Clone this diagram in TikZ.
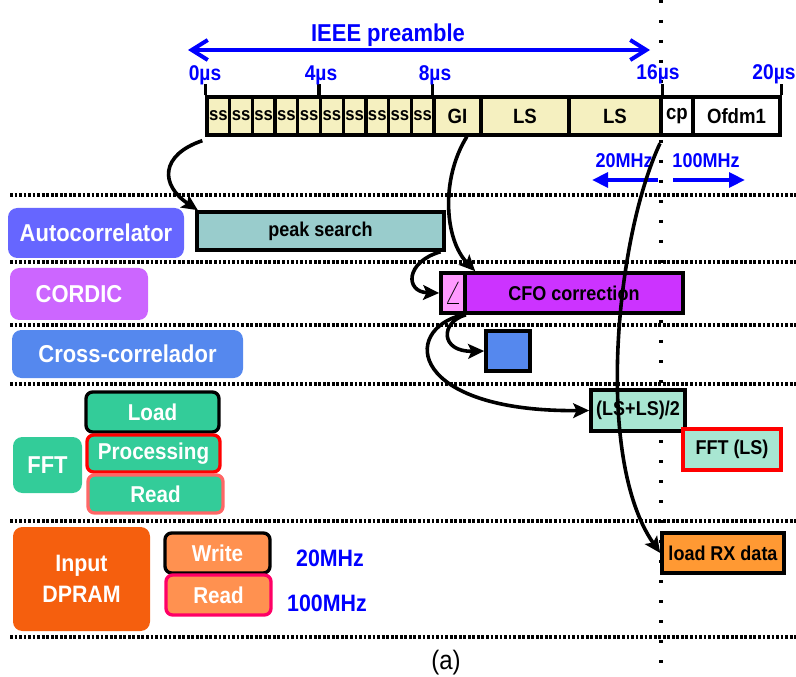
\documentclass[tikz,border=0pt]{standalone}
\usepackage{fontspec}
\setmainfont{Liberation Sans}[FakeStretch=0.9]
\usetikzlibrary{arrows.meta}

\definecolor{preamble}{HTML}{F5F0C0}
\definecolor{autoc}{HTML}{6666FF}
\definecolor{cordic}{HTML}{CC66FF}
\definecolor{crossc}{HTML}{5588EE}
\definecolor{fftc}{HTML}{33CC99}
\definecolor{dpram}{HTML}{F55F0E}
\definecolor{peak}{HTML}{99CCCC}
\definecolor{anglec}{HTML}{FF99FF}
\definecolor{cfo}{HTML}{CC33FF}
\definecolor{mint}{HTML}{A8E6D2}
\definecolor{rxdata}{HTML}{FF9933}
\definecolor{ramport}{HTML}{FF9150}
\definecolor{readedge}{HTML}{FF6666}
\definecolor{pinkedge}{HTML}{FF0066}

\tikzset{
  tbox/.style={draw=black, line width=2.5pt, inner sep=0pt, minimum height=28.5pt,
    font=\fontsize{15.5}{15.5}\selectfont\bfseries},
  unit/.style={rounded corners=7pt, text=white, inner sep=0pt,
    font=\fontsize{18.3}{18.3}\selectfont\bfseries},
  port/.style={rounded corners=5pt, line width=2.5pt, text=white, inner sep=0pt,
    font=\fontsize{17.2}{17.2}\selectfont\bfseries},
  task/.style={draw=black, line width=2.7pt, inner sep=0pt,
    font=\fontsize{15}{15}\selectfont\bfseries},
  tlabel/.style={text=blue, font=\fontsize{16}{16}\selectfont\bfseries},
  rowsep/.style={line width=2.4pt, dash pattern=on 2.1pt off 1.3pt},
  timesep/.style={line width=2.4pt, dash pattern=on 2.4pt off 12.6pt},
  flow/.style={line width=2.7pt, -{Stealth[length=12pt,width=11pt,inset=2.5pt]}},
}

\begin{document}
\begin{tikzpicture}[x=0.75pt, y=-0.75pt]
  \useasboundingbox (0,0) rectangle (796,677);

  % Dotted separators
  \foreach \y in {195,262,325,384,521,637}
    \draw[rowsep] (10,\y) -- (796,\y);
  \draw[timesep] (661,0) -- (661,677);

  % IEEE preamble
  \node[text=blue, font=\fontsize{18.3}{18.3}\selectfont\bfseries] (title) at (388,35) {IEEE preamble};
  \coordinate (pl) at (188,50);
  \coordinate (pr) at (650,50);
  \draw[blue, line width=3pt, {Straight Barb[length=12pt,width=15pt]}-{Straight Barb[length=12pt,width=15pt]}] (pl) -- (pr);

  % Time line
  \foreach \i in {1,...,10}
    \node[tbox, fill=preamble, minimum width=17pt, font=\fontsize{13.9}{13.9}\selectfont\bfseries]
      (ss\i) at ({207+22.7*(\i-0.5)},116) {ss};
  \node[tbox, fill=preamble, minimum width=35.25pt] (gi) at (457.5,116) {GI};
  \node[tbox, fill=preamble, minimum width=66pt] (ls1) at (525,116) {LS};
  \node[tbox, fill=preamble, minimum width=69pt] (ls2) at (615,116) {LS};
  \node[tbox, fill=white, minimum width=24pt] (cp) at (677,116) {cp};
  \node[tbox, fill=white, minimum width=65.25pt] (ofdm) at (736.5,116) {Ofdm1};

  % Ticks
  \draw[line width=2.5pt] (ss1.north west) -- ++(0,-11);
  \draw[line width=2.5pt] (ss6.north west) -- ++(0,-11);
  \draw[line width=2.5pt] (gi.north west) -- ++(0,-11);
  \draw[line width=2.5pt] (ls2.north east) -- ++(0,-11);
  \draw[line width=2.5pt] (ofdm.north east) -- ++(0,-11);
  \node[tlabel] (t0) at (205,75) {0µs};
  \node[tlabel] (t4) at (321,75) {4µs};
  \node[tlabel] (t8) at (435,75) {8µs};
  \node[tlabel] (t16) at (658,74) {16µs};
  \node[tlabel] (t20) at (774,74) {20µs};

  % Clock domains
  \node[tlabel, font=\fontsize{15}{15}\selectfont\bfseries] (mhzlo) at (624,161) {20MHz};
  \node[tlabel, font=\fontsize{15}{15}\selectfont\bfseries] (mhzhi) at (706,161) {100MHz};
  \coordinate (lo1) at (658,180);
  \coordinate (lo2) at (592,180);
  \coordinate (hi1) at (673,180);
  \coordinate (hi2) at (745,180);
  \draw[blue, line width=3.5pt, -{Triangle[length=12pt,width=11pt]}] (lo1) -- (lo2);
  \draw[blue, line width=3.5pt, -{Triangle[length=12pt,width=11pt]}] (hi1) -- (hi2);

  % Units
  \node[unit, fill=autoc, minimum width=132pt, minimum height=37.5pt] (auto) at (96,233) {Autocorrelator};
  \node[unit, fill=cordic, minimum width=103.5pt, minimum height=39pt] (cord) at (79,294) {CORDIC};
  \node[unit, fill=crossc, minimum width=173.25pt, minimum height=36pt] (cross) at (127.5,354) {Cross-correlador};
  \node[unit, fill=fftc, minimum width=51.75pt, minimum height=42pt] (fft) at (47.5,465) {FFT};
  \node[port, fill=fftc, draw=black, minimum width=99.75pt, minimum height=30pt] (load) at (152.5,412) {Load};
  \node[port, fill=fftc, draw=red, minimum width=99.75pt, minimum height=27.75pt] (proc) at (153.5,453.5) {Processing};
  \node[port, fill=fftc, draw=readedge, minimum width=101.25pt, minimum height=28.5pt] (fread) at (155.5,494) {Read};
  \node[unit, fill=dpram, minimum width=102.75pt, minimum height=78pt, align=center,
    font=\fontsize{17.8}{23}\selectfont\bfseries] (ram) at (81.5,579) {Input\\DPRAM};
  \node[port, fill=ramport, draw=black, minimum width=78.75pt, minimum height=30pt] (write) at (217.5,553) {Write};
  \node[port, fill=ramport, draw=pinkedge, minimum width=78.75pt, minimum height=30pt] (rread) at (218.5,595) {Read};
  \node[tlabel, font=\fontsize{17.8}{17.8}\selectfont\bfseries] (wclk) at (330,558) {20MHz};
  \node[tlabel, font=\fontsize{17.8}{17.8}\selectfont\bfseries] (rclk) at (327,603) {100MHz};

  % Tasks
  \node[task, fill=peak, minimum width=185.25pt, minimum height=28.5pt] (peak) at (320.5,231) {peak search};
  \node[task, fill=anglec, minimum width=18pt, minimum height=30pt] (ang) at (453,293) {\fontsize{24}{24}\selectfont$\angle$};
  \node[task, fill=cfo, minimum width=163.5pt, minimum height=30pt] (cfo) at (574,293) {CFO correction};
  \node[task, fill=crossc, minimum width=33pt, minimum height=30pt] (xc) at (508,351) {};
  \node[task, fill=mint, minimum width=70.5pt, minimum height=30.75pt] (avg) at (638,410.5) {(LS+LS)/2};
  \node[task, fill=mint, draw=red, minimum width=73.5pt, minimum height=30.75pt] (fftls) at (732,449.5) {FFT (LS)};
  \node[task, fill=rxdata, minimum width=91.5pt, minimum height=30pt] (rx) at (723,553) {load RX data};

  % Flow
  \draw[flow] ([shift={(-3,4)}]ss1.south west) .. controls (160,155) and (160,185) .. ([xshift=2pt]peak.north west);
  \draw[flow] ([xshift=7pt]gi.south) .. controls (440,180) and (445,240) .. ([xshift=9pt]cfo.north west);
  \draw[flow] ([xshift=-4pt]peak.south east) .. controls (405,262) and (405,292) .. (ang.west);
  \draw[flow] ([xshift=2pt]cfo.south west) .. controls (440,322) and (440,352) .. (xc.west);
  \draw[flow] ([xshift=-3pt]ang.south east) .. controls (400,330) and (410,412) .. (avg.west);
  \draw[flow] ([xshift=-2pt,yshift=-5pt]ls2.south east) .. controls (615,240) and (595,460) .. (rx.west);

  % Caption
  \node[font=\fontsize{20}{20}\selectfont] (cap) at (446,663) {(a)};
\end{tikzpicture}
\end{document}
